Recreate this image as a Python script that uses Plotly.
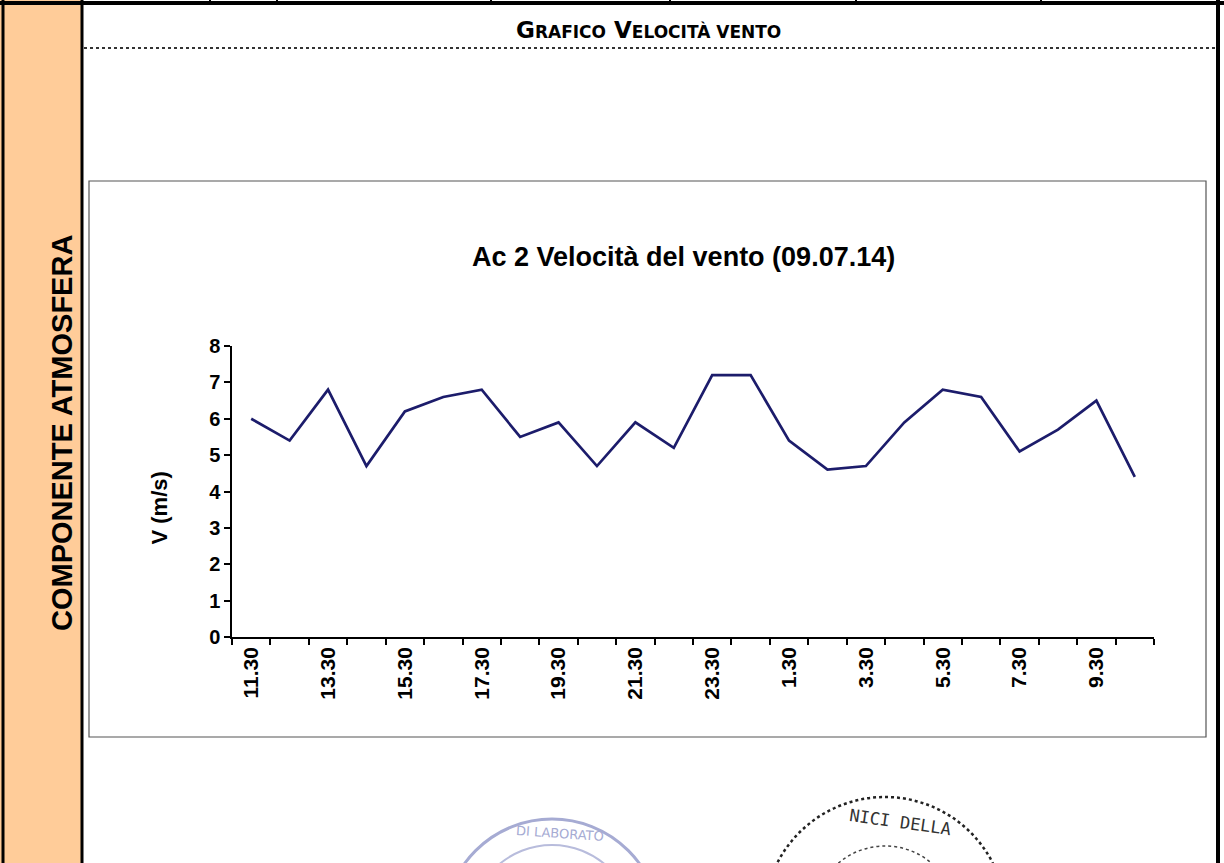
"""Wind speed chart (Ac 2, 09.07.14) laid out like the scanned report page."""

import plotly.graph_objs as go

W, H = 1224, 863

# hourly readings, 11.30 of day 1 to 10.30 of day 2
times = ['11.30', '12.30', '13.30', '14.30', '15.30', '16.30', '17.30', '18.30',
         '19.30', '20.30', '21.30', '22.30', '23.30', '0.30', '1.30', '2.30',
         '3.30', '4.30', '5.30', '6.30', '7.30', '8.30', '9.30', '10.30']
speed = [6.0, 5.4, 6.8, 4.7, 6.2, 6.6, 6.8, 5.5,
         5.9, 4.7, 5.9, 5.2, 7.2, 7.2, 5.4, 4.6,
         4.7, 5.9, 6.8, 6.6, 5.1, 5.7, 6.5, 4.4]
y_ticks = [0, 1, 2, 3, 4, 5, 6, 7, 8]

# only every other hour gets a label
tick_text = [t if i % 2 == 0 else '' for i, t in enumerate(times)]


def px(x):
    return x / W


def py(y):
    return 1 - y / H


def line(x0, y0, x1, y1, width=2, color='black', dash='solid'):
    return dict(type='line', xref='paper', yref='paper',
                x0=px(x0), y0=py(y0), x1=px(x1), y1=py(y1),
                line=dict(color=color, width=width, dash=dash), layer='above')


def circle(cx, cy, r, color, width=2, dash='solid'):
    return dict(type='circle', xref='paper', yref='paper',
                x0=px(cx - r), x1=px(cx + r), y0=py(cy + r), y1=py(cy - r),
                line=dict(color=color, width=width, dash=dash), layer='below')


fig = go.Figure()
fig.add_trace(go.Scatter(
    x=times, y=speed, mode='lines',
    line=dict(color='#1c1c6b', width=2.7),
    showlegend=False, hoverinfo='x+y'
))

shapes = [
    # orange side column
    dict(type='rect', xref='paper', yref='paper', x0=0, x1=px(82), y0=0, y1=1,
         fillcolor='#ffcc99', line=dict(width=0), layer='below'),
    line(3, 0, 3, H, width=3),
    line(82, 0, 82, H, width=3),
    line(1218, 0, 1218, H, width=4),
    # cut-off table row at the very top
    line(0, 3, W, 3, width=4),
    line(210, 0, 210, 4, width=2),
    line(277, 0, 277, 4, width=2),
    line(491, 0, 491, 4, width=2),
    line(670, 0, 670, 4, width=2),
    line(856, 0, 856, 4, width=2),
    line(1041, 0, 1041, 4, width=2),
    # dotted rule under the section title
    line(84, 48, 1217, 48, width=2, color='#333333', dash='dot'),
    # chart frame
    dict(type='rect', xref='paper', yref='paper',
         x0=px(89), x1=px(1206), y0=py(737), y1=py(181),
         line=dict(color='#555555', width=1.2), layer='below'),
    # stamps peeking in at the bottom
    circle(552, 927, 108, '#a6abd3', width=3),
    circle(552, 927, 82, '#b8bcdc', width=2),
    circle(885, 918, 121, '#222222', width=2.5, dash='dot'),
    circle(885, 918, 72, '#444444', width=1.5, dash='dot'),
]

annotations = [
    dict(text='G<span style="font-size:17px">RAFICO</span> '
              'V<span style="font-size:17px">ELOCITÀ VENTO</span>',
         x=px(648), y=py(30), xref='paper', yref='paper', showarrow=False,
         yanchor='middle',
         font=dict(family='DejaVu Sans', size=23, color='black', weight='bold')),
    dict(text='COMPONENTE ATMOSFERA', textangle=-90,
         x=px(44), y=py(433), xref='paper', yref='paper', showarrow=False,
         font=dict(family='Liberation Sans', size=29, color='black', weight='bold')),
    dict(text='Ac 2 Velocità del vento (09.07.14)',
         x=px(683), y=py(240), xref='paper', yref='paper', showarrow=False,
         font=dict(family='Liberation Sans', size=27, color='black', weight='bold')),
    dict(text='V (m/s)', textangle=-90,
         x=px(144), y=py(508), xref='paper', yref='paper', showarrow=False,
         font=dict(family='Liberation Sans', size=22, color='black', weight='bold')),
    dict(text='DI LABORATO', x=px(560), y=py(833), xref='paper', yref='paper',
         showarrow=False, textangle=4, xanchor='center', yanchor='middle',
         font=dict(family='DejaVu Sans', size=13, color='#a6abd3')),
    dict(text='NICI DELLA', x=px(900), y=py(822), xref='paper', yref='paper',
         showarrow=False, textangle=8, xanchor='center', yanchor='middle',
         font=dict(family='DejaVu Sans Mono', size=17, color='#333333')),
]

fig.update_layout(
    width=W, height=H,
    margin=dict(l=0, r=0, t=0, b=0, autoexpand=False),
    paper_bgcolor='white', plot_bgcolor='white',
    shapes=shapes, annotations=annotations,
    xaxis=dict(
        domain=[px(232), px(1154)], automargin=False,
        type='category', categoryorder='array', categoryarray=times,
        range=[-0.5, len(times) - 0.5],
        tickmode='array', tickvals=times, ticktext=tick_text,
        tickson='boundaries', ticks='outside', ticklen=6, tickwidth=1.5,
        tickcolor='black', tickangle=-90,
        tickfont=dict(family='Liberation Sans', size=21, color='black', weight='bold'),
        showline=True, linecolor='black', linewidth=1.5,
        showgrid=False, zeroline=False,
    ),
    yaxis=dict(
        domain=[py(637), py(346)], automargin=False,
        range=[0, 8], tickvals=y_ticks,
        ticks='outside', ticklen=6, tickwidth=1.5, tickcolor='black',
        tickfont=dict(family='Liberation Sans', size=20, color='black', weight='bold'),
        showline=True, linecolor='black', linewidth=1.5,
        showgrid=False, zeroline=False,
    ),
)

# drop the default page margin so the figure fills the window
fig.write_html("out.html", config={'displayModeBar': False},
               post_script="document.body.style.margin='0';")
